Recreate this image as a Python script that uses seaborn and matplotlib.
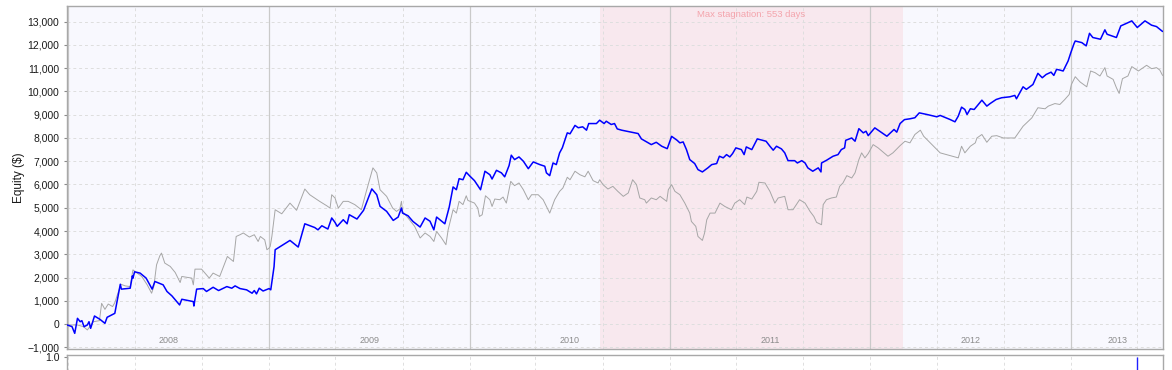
import pandas as pd
import matplotlib
matplotlib.use("Agg")
import matplotlib.pyplot as plt
import matplotlib.ticker as mticker
import seaborn as sns

# Strategy equity curve (blue)
strategy_dates = [
    "2007-12-30", "2008-01-08", "2008-01-13", "2008-01-18", "2008-01-23", "2008-01-26", "2008-01-30",
    "2008-02-05", "2008-02-08", "2008-02-11", "2008-02-18", "2008-02-28", "2008-03-08", "2008-03-12",
    "2008-03-26", "2008-04-05", "2008-04-07", "2008-04-23", "2008-04-27", "2008-04-28", "2008-05-01",
    "2008-05-11", "2008-05-22", "2008-06-02", "2008-06-07", "2008-06-22", "2008-06-29", "2008-07-08",
    "2008-07-22", "2008-07-26", "2008-08-16", "2008-08-17", "2008-08-22", "2008-09-03", "2008-09-09",
    "2008-09-21", "2008-10-01", "2008-10-16", "2008-10-25", "2008-10-31", "2008-11-09", "2008-11-21",
    "2008-12-01", "2008-12-05", "2008-12-09", "2008-12-14", "2008-12-21", "2009-01-01", "2009-01-04",
    "2009-01-10", "2009-01-12", "2009-02-08", "2009-02-23", "2009-03-07", "2009-03-25", "2009-03-31",
    "2009-04-07", "2009-04-18", "2009-04-25", "2009-05-01", "2009-05-05", "2009-05-16", "2009-05-23",
    "2009-05-27", "2009-06-10", "2009-06-22", "2009-07-07", "2009-07-16", "2009-07-22", "2009-08-03",
    "2009-08-15", "2009-08-24", "2009-08-30", "2009-09-01", "2009-09-11", "2009-09-20", "2009-10-03",
    "2009-10-12", "2009-10-21", "2009-10-28", "2009-11-02", "2009-11-17", "2009-11-25", "2009-12-02",
    "2009-12-08", "2009-12-13", "2009-12-20", "2009-12-26", "2010-01-02", "2010-01-10", "2010-01-21",
    "2010-01-29", "2010-02-07", "2010-02-11", "2010-02-19", "2010-02-28", "2010-03-06", "2010-03-14",
    "2010-03-18", "2010-03-24", "2010-04-01", "2010-04-09", "2010-04-18", "2010-04-27", "2010-05-09",
    "2010-05-18", "2010-05-21", "2010-05-27", "2010-06-02", "2010-06-08", "2010-06-14", "2010-06-19",
    "2010-06-28", "2010-07-03", "2010-07-12", "2010-07-18", "2010-07-26", "2010-08-02", "2010-08-06",
    "2010-08-20", "2010-08-26", "2010-08-30", "2010-09-03", "2010-09-07", "2010-09-16", "2010-09-22",
    "2010-09-27", "2010-10-05", "2010-11-04", "2010-11-10", "2010-11-28", "2010-12-07", "2010-12-17",
    "2010-12-27", "2011-01-04", "2011-01-14", "2011-01-19", "2011-01-25", "2011-01-31", "2011-02-06",
    "2011-02-15", "2011-02-21", "2011-03-01", "2011-03-11", "2011-03-18", "2011-03-27", "2011-04-01",
    "2011-04-08", "2011-04-14", "2011-04-20", "2011-04-25", "2011-05-01", "2011-05-11", "2011-05-16",
    "2011-05-20", "2011-05-30", "2011-06-09", "2011-06-25", "2011-07-02", "2011-07-08", "2011-07-14",
    "2011-07-23", "2011-07-29", "2011-08-04", "2011-08-16", "2011-08-21", "2011-08-29", "2011-09-04",
    "2011-09-09", "2011-09-18", "2011-09-28", "2011-10-03", "2011-10-04", "2011-10-13", "2011-10-25",
    "2011-11-03", "2011-11-09", "2011-11-15", "2011-11-17", "2011-11-28", "2011-12-04", "2011-12-11",
    "2011-12-19", "2011-12-24", "2011-12-28", "2012-01-09", "2012-01-18", "2012-01-31", "2012-02-13",
    "2012-02-18", "2012-02-24", "2012-03-03", "2012-03-13", "2012-03-22", "2012-03-30", "2012-04-13",
    "2012-05-01", "2012-05-07", "2012-05-25", "2012-06-03", "2012-06-09", "2012-06-15", "2012-06-21",
    "2012-06-25", "2012-07-01", "2012-07-08", "2012-07-22", "2012-07-31", "2012-08-06", "2012-08-17",
    "2012-08-27", "2012-09-11", "2012-09-20", "2012-09-23", "2012-10-05", "2012-10-11", "2012-10-23",
    "2012-11-01", "2012-11-09", "2012-11-16", "2012-11-25", "2012-11-30", "2012-12-05", "2012-12-11",
    "2012-12-17", "2012-12-26", "2012-12-31", "2013-01-06", "2013-01-08", "2013-01-20", "2013-01-28",
    "2013-02-03", "2013-02-09", "2013-02-23", "2013-03-03", "2013-03-07", "2013-03-24", "2013-04-01",
    "2013-04-12", "2013-04-21", "2013-05-01", "2013-05-15", "2013-05-27", "2013-06-05", "2013-06-16",
]
strategy_equity = [
    -40, -110, -400, 245, 100, 145, -115,
    -40, 100, -185, 345, 200, 30, 290,
    460, 1710, 1500, 1540, 2070, 1970, 2245,
    2190, 1975, 1500, 1830, 1685, 1400, 1210,
    820, 1065, 965, 775, 1500, 1525, 1400,
    1580, 1440, 1610, 1540, 1640, 1525, 1470,
    1325, 1440, 1295, 1540, 1420, 1525, 1470,
    2470, 3195, 3595, 3310, 4310, 4150, 4050,
    4225, 4085, 4560, 4370, 4200, 4485, 4310,
    4700, 4515, 4890, 5810, 5560, 5060, 4845,
    4455, 4600, 4990, 4770, 4655, 4410, 4170,
    4560, 4420, 4050, 4600, 4310, 5030, 5895,
    5775, 6250, 6205, 6525, 6350, 6165, 5775,
    6570, 6420, 6235, 6610, 6500, 6330, 6815,
    7260, 7070, 7185, 7000, 6680, 6970, 6855,
    6785, 6500, 6380, 6925, 6855, 7360, 7580,
    8220, 8180, 8540, 8440, 8480, 8335, 8620,
    8620, 8765, 8690, 8620, 8720, 8580, 8620,
    8390, 8335, 8190, 7960, 7715, 7815, 7645,
    7540, 8070, 7900, 7790, 7830, 7500, 7070,
    6900, 6640, 6540, 6715, 6855, 6900, 7215,
    7145, 7285, 7185, 7330, 7575, 7500, 7285,
    7615, 7500, 7960, 7860, 7645, 7475, 7645,
    7530, 7360, 7025, 7025, 6925, 7025, 6925,
    6715, 6570, 6715, 6540, 6925, 7040, 7215,
    7285, 7500, 7575, 7900, 8000, 7860, 8400,
    8220, 8290, 8100, 8435, 8290, 8075, 8365,
    8250, 8620, 8790, 8825, 8870, 9080, 9010,
    8910, 8970, 8795, 8695, 8940, 9325, 9225,
    9010, 9255, 9225, 9625, 9370, 9480, 9655,
    9730, 9770, 9830, 9685, 10200, 10090, 10300,
    10780, 10590, 10730, 10830, 10690, 10950, 10920,
    10880, 11310, 11670, 12070, 12170, 12100, 11960,
    12500, 12320, 12245, 12650, 12460, 12320, 12820,
    12935, 13035, 12750, 13035, 12850, 12790, 12580,
]

# Benchmark equity curve (grey)
benchmark_dates = [
    "2007-12-30", "2008-01-18", "2008-01-29", "2008-02-05", "2008-02-16", "2008-02-27", "2008-03-02",
    "2008-03-08", "2008-03-14", "2008-03-22", "2008-03-26", "2008-04-06", "2008-04-14", "2008-04-23",
    "2008-04-28", "2008-05-02", "2008-05-14", "2008-05-24", "2008-06-01", "2008-06-05", "2008-06-10",
    "2008-06-16", "2008-06-19", "2008-06-25", "2008-07-05", "2008-07-14", "2008-07-23", "2008-07-26",
    "2008-08-13", "2008-08-16", "2008-08-19", "2008-08-31", "2008-09-14", "2008-09-21", "2008-10-03",
    "2008-10-10", "2008-10-17", "2008-10-28", "2008-11-02", "2008-11-09", "2008-11-15", "2008-11-26",
    "2008-12-05", "2008-12-12", "2008-12-16", "2008-12-24", "2008-12-28", "2009-01-01", "2009-01-03",
    "2009-01-06", "2009-01-12", "2009-01-24", "2009-02-08", "2009-02-20", "2009-03-07", "2009-03-16",
    "2009-04-03", "2009-04-16", "2009-04-22", "2009-04-25", "2009-05-01", "2009-05-07", "2009-05-16",
    "2009-05-25", "2009-06-06", "2009-06-18", "2009-06-27", "2009-07-09", "2009-07-16", "2009-07-22",
    "2009-08-03", "2009-08-14", "2009-08-21", "2009-08-27", "2009-08-30", "2009-09-01", "2009-09-11",
    "2009-09-23", "2009-10-03", "2009-10-12", "2009-10-21", "2009-10-28", "2009-11-02", "2009-11-11",
    "2009-11-19", "2009-11-23", "2009-12-02", "2009-12-08", "2009-12-13", "2009-12-20", "2009-12-26",
    "2009-12-29", "2010-01-10", "2010-01-16", "2010-01-19", "2010-01-24", "2010-01-30", "2010-02-07",
    "2010-02-11", "2010-02-16", "2010-02-25", "2010-03-03", "2010-03-09", "2010-03-17", "2010-03-24",
    "2010-04-01", "2010-04-09", "2010-04-18", "2010-04-24", "2010-05-06", "2010-05-15", "2010-05-27",
    "2010-06-05", "2010-06-14", "2010-06-20", "2010-06-28", "2010-07-03", "2010-07-12", "2010-07-21",
    "2010-07-30", "2010-08-05", "2010-08-14", "2010-08-23", "2010-08-26", "2010-09-01", "2010-09-10",
    "2010-09-19", "2010-09-28", "2010-10-08", "2010-10-17", "2010-10-25", "2010-11-01", "2010-11-07",
    "2010-11-16", "2010-11-19", "2010-11-28", "2010-12-07", "2010-12-14", "2010-12-26", "2010-12-29",
    "2011-01-04", "2011-01-10", "2011-01-19", "2011-01-28", "2011-02-06", "2011-02-09", "2011-02-17",
    "2011-02-21", "2011-03-01", "2011-03-05", "2011-03-09", "2011-03-15", "2011-03-24", "2011-04-02",
    "2011-04-11", "2011-04-23", "2011-04-29", "2011-05-08", "2011-05-17", "2011-05-21", "2011-05-30",
    "2011-06-08", "2011-06-12", "2011-06-23", "2011-07-02", "2011-07-11", "2011-07-17", "2011-07-29",
    "2011-08-04", "2011-08-13", "2011-08-25", "2011-09-04", "2011-09-13", "2011-09-20", "2011-09-25",
    "2011-10-04", "2011-10-07", "2011-10-13", "2011-10-22", "2011-10-31", "2011-11-06", "2011-11-12",
    "2011-11-19", "2011-11-28", "2011-12-04", "2011-12-11", "2011-12-16", "2011-12-22", "2011-12-28",
    "2012-01-06", "2012-01-15", "2012-02-02", "2012-02-11", "2012-02-24", "2012-03-04", "2012-03-13",
    "2012-03-22", "2012-04-01", "2012-04-07", "2012-04-19", "2012-05-07", "2012-05-25", "2012-06-09",
    "2012-06-15", "2012-06-21", "2012-07-01", "2012-07-10", "2012-07-13", "2012-07-22", "2012-07-31",
    "2012-08-09", "2012-08-18", "2012-08-30", "2012-09-20", "2012-10-05", "2012-10-21", "2012-11-01",
    "2012-11-14", "2012-11-20", "2012-12-02", "2012-12-11", "2012-12-20", "2012-12-28", "2013-01-01",
    "2013-01-08", "2013-01-17", "2013-01-29", "2013-02-05", "2013-02-13", "2013-02-22", "2013-03-03",
    "2013-03-07", "2013-03-18", "2013-03-24", "2013-03-29", "2013-04-04", "2013-04-14", "2013-04-21",
    "2013-05-03", "2013-05-18", "2013-05-27", "2013-06-05", "2013-06-11", "2013-06-16",
]
benchmark_equity = [
    -40, -40, -115, -255, 100, 145, 890,
    630, 860, 750, 920, 1710, 1640, 1610,
    2330, 2260, 2045, 1685, 1325, 1610, 2545,
    2935, 3050, 2620, 2475, 2215, 1785, 2045,
    1975, 1685, 2360, 2360, 1975, 2190, 2045,
    2475, 2905, 2690, 3765, 3840, 3915, 3740,
    3840, 3550, 3765, 3620, 3195, 3265, 3340,
    3765, 4915, 4740, 5200, 4890, 5805, 5560,
    5275, 5085, 4985, 5560, 5420, 4985, 5275,
    5275, 5135, 4915, 5705, 6715, 6500, 5775,
    5490, 4985, 4845, 4945, 5275, 4845, 4560,
    4200, 3700, 3915, 3765, 3550, 3980, 3700,
    3410, 4050, 4915, 4770, 5275, 5135, 5515,
    5315, 5200, 4985, 4625, 4700, 5515, 5345,
    5055, 5375, 5345, 5460, 5200, 6135, 5950,
    6065, 5775, 5345, 5560, 5560, 5345, 4770,
    5345, 5705, 5850, 6310, 6205, 6570, 6420,
    6330, 6570, 6165, 6065, 6205, 5995, 5805,
    5920, 5705, 5490, 5635, 6205, 5995, 5420,
    5345, 5200, 5420, 5345, 5490, 5275, 5775,
    5995, 5705, 5560, 5200, 4770, 4410, 4200,
    3765, 3595, 3915, 4485, 4770, 4770, 5200,
    5055, 4915, 5200, 5345, 5135, 5460, 5375,
    5705, 6095, 6065, 5705, 5200, 5420, 5490,
    4915, 4915, 5345, 5200, 4845, 4625, 4370,
    4270, 5135, 5345, 5420, 5460, 5920, 6065,
    6380, 6280, 6500, 7070, 7360, 7145, 7330,
    7715, 7575, 7215, 7360, 7670, 7860, 7790,
    8150, 8335, 8075, 7790, 7360, 7245, 7145,
    7645, 7360, 7645, 7790, 8000, 8150, 7815,
    8075, 8100, 8000, 8000, 8505, 8865, 9300,
    9255, 9370, 9480, 9440, 9655, 9870, 10300,
    10635, 10405, 10200, 10880, 10810, 10665, 11025,
    10665, 10520, 10160, 9915, 10550, 10665, 11070,
    10880, 11125, 10980, 11025, 10920, 10690,
]

# Longest stretch without a new equity high
stagnation_start = "2010-08-26"
stagnation_end = "2012-03-01"

# Trade marker shown in the lower panel
signal_dates = ["2013-05-01"]

x_start = pd.Timestamp("2007-12-30")
x_end = pd.Timestamp("2013-06-17")

sns.set_style("white")
plt.rcParams["font.family"] = ["Liberation Sans", "DejaVu Sans"]

fig = plt.figure(figsize=(11.72, 3.70), dpi=100)
ax = fig.add_axes([0.0572, 0.0568, 0.9352, 0.9270])
ax2 = fig.add_axes([0.0572, 0.0405 - 0.2, 0.9352, 0.2])

ax.set_facecolor("#F8F8FE")

# stagnation band
s0, s1 = pd.Timestamp(stagnation_start), pd.Timestamp(stagnation_end)
ax.axvspan(s0, s1, color="#F8E8EE", lw=0, zorder=0)
ax.text(s0 + (s1 - s0) / 2, 0.974, f"Max stagnation: {(s1 - s0).days} days",
        transform=ax.get_xaxis_transform(), ha="center", va="center",
        fontsize=6.8, color="#F4A4AC", zorder=5)

# year lines (solid) and 4-month lines (dashed)
grid_dates = pd.date_range("2008-01-01", x_end, freq="4MS")
for d in grid_dates:
    if d.month == 1:
        ax.axvline(d, color="#CACACA", lw=0.9, zorder=1)
    else:
        ax.axvline(d, color="#DEDEDE", lw=0.7, ls=(0, (3, 3)), zorder=1)
    ax2.axvline(d, color="#DEDEDE", lw=0.7, ls=(0, (3, 3)), zorder=1)

ax.set_yticks(range(-1000, 14000, 1000))
ax.yaxis.grid(True, color="#DEDEDE", lw=0.7, ls=(0, (3, 3)), zorder=1)
ax.set_axisbelow(True)

sns.lineplot(x=pd.to_datetime(benchmark_dates), y=benchmark_equity, ax=ax,
             color="#A6A6A6", lw=0.7, estimator=None, zorder=3)
sns.lineplot(x=pd.to_datetime(strategy_dates), y=strategy_equity, ax=ax,
             color="#0000FF", lw=1.1, estimator=None, zorder=4)

ax.set_xlim(x_start, x_end)
ax.set_ylim(-1073, 13675)
ax.yaxis.set_major_formatter(mticker.StrMethodFormatter("{x:,.0f}"))
ax.set_xticks([])
ax.set_xlabel("")
ax.tick_params(axis="y", left=True, length=2.5, width=0.8, color="#8A8A8A",
               pad=3, labelsize=7.5, labelcolor="#1A1A1A")
ax.set_ylabel("Equity ($)", fontsize=8.5, color="#1A1A1A", labelpad=2)

# year labels at the centre of each visible year
for year in range(2008, 2014):
    a = max(pd.Timestamp(f"{year}-01-01"), x_start)
    b = min(pd.Timestamp(f"{year + 1}-01-01"), x_end)
    ax.text(a + (b - a) / 2, 0.025, str(year), transform=ax.get_xaxis_transform(),
            ha="center", va="center", fontsize=6.5, color="#8C8C8C", zorder=5)

for sp in ax.spines.values():
    sp.set_color("#A8A8A8")
    sp.set_linewidth(1.0)

# lower panel, mostly cut off by the figure edge
ax2.set_facecolor("white")
ax2.vlines(pd.to_datetime(signal_dates), 0, 1, color="#2020FF", lw=1.0, zorder=3)
ax2.set_xlim(x_start, x_end)
ax2.set_ylim(0, 1.03)
ax2.set_yticks([1.0])
ax2.yaxis.set_major_formatter(mticker.StrMethodFormatter("{x:.1f}"))
ax2.set_xticks([])
ax2.tick_params(axis="y", left=True, length=2.5, width=0.8, color="#8A8A8A",
                pad=3, labelsize=7.5, labelcolor="#1A1A1A")
for sp in ax2.spines.values():
    sp.set_color("#A8A8A8")
    sp.set_linewidth(1.0)

fig.savefig("out.png", dpi=100)
